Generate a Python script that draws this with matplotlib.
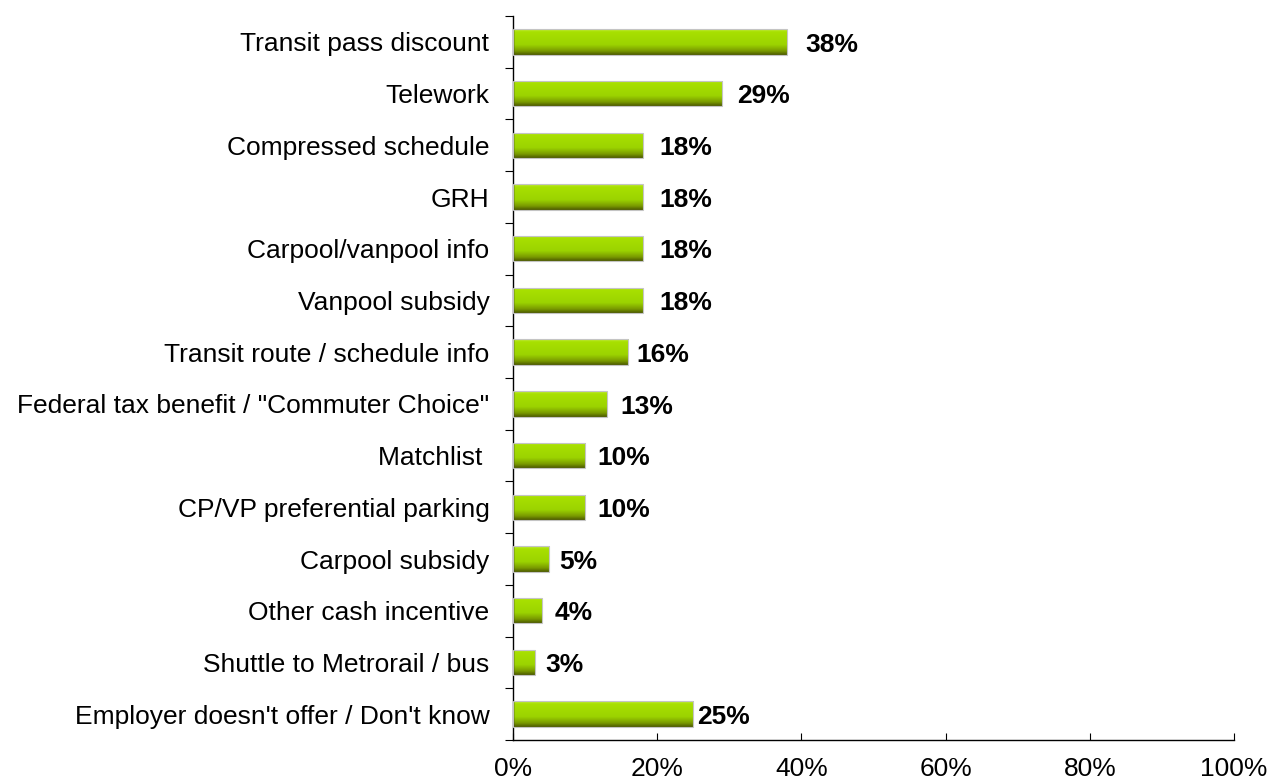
#!/usr/bin/env python3
"""Horizontal bar chart of commuter benefits offered by employers."""
import numpy as np

import matplotlib
matplotlib.use("Agg")
import matplotlib.pyplot as plt
from matplotlib.colors import LinearSegmentedColormap

plt.rcParams["font.family"] = ["Liberation Sans", "DejaVu Sans"]

categories = [
    "Transit pass discount",
    "Telework",
    "Compressed schedule",
    "GRH",
    "Carpool/vanpool info",
    "Vanpool subsidy",
    "Transit route / schedule info",
    'Federal tax benefit / "Commuter Choice"',
    "Matchlist ",
    "CP/VP preferential parking",
    "Carpool subsidy",
    "Other cash incentive",
    "Shuttle to Metrorail / bus",
    "Employer doesn't offer / Don't know",
]
values = [38, 29, 18, 18, 18, 18, 16, 13, 10, 10, 5, 4, 3, 25]
xticks = [0, 20, 40, 60, 80, 100]

# gap (in points) between each bar end and its value label
label_gap = [13, 11, 12, 12, 12, 12, 6, 10, 9, 9, 7, 9, 8, 3]

# vertical shading for the bars: bright lime on top, olive at the bottom
green = LinearSegmentedColormap.from_list(
    "lime", [(0.0, "#c2ec3c"), (0.1, "#a8e000"), (0.6, "#9cd400"),
             (0.85, "#7a9a00"), (1.0, "#4c5a00")])
shade = np.linspace(0, 1, 64).reshape(-1, 1)

fig = plt.figure(figsize=(12.7, 7.81), dpi=100)
ax = fig.add_axes([0.404, 0.0525, 0.5677, 0.927])

y = np.arange(len(categories))
bars = ax.barh(y, values, height=0.49, color="none",
               edgecolor="#c4c4c4", linewidth=0.8, zorder=3)
for rect in bars:
    x0, y0 = rect.get_x(), rect.get_y()
    w, h = rect.get_width(), rect.get_height()
    im = ax.imshow(shade, cmap=green, aspect="auto", interpolation="bilinear",
                   extent=(x0, x0 + w, y0 + h, y0), zorder=2)
    im.set_clip_path(rect)

for yi, v, gap in zip(y, values, label_gap):
    ax.annotate(f"{v}%", (v, yi), xytext=(gap, -2), textcoords="offset points",
                va="center", ha="left", fontsize=19, fontweight="bold")

ax.set_xlim(0, 100)
ax.set_ylim(len(categories) - 0.5, -0.5)
ax.set_xticks(xticks)
ax.set_xticklabels([f"{t}%" for t in xticks], fontsize=19)
ax.tick_params(axis="x", direction="in", length=5, pad=12)

# category labels sit between boundary ticks
ax.set_yticks(np.arange(len(categories) + 1) - 0.5)
ax.set_yticklabels([])
ax.set_yticks(y, minor=True)
ax.set_yticklabels(categories, minor=True, fontsize=19)
ax.tick_params(axis="y", which="major", direction="out", length=6)
ax.tick_params(axis="y", which="minor", length=0, pad=17)

for side in ("top", "right"):
    ax.spines[side].set_visible(False)
for side in ("left", "bottom"):
    ax.spines[side].set_linewidth(1.0)

fig.savefig("out.png", dpi=100)
